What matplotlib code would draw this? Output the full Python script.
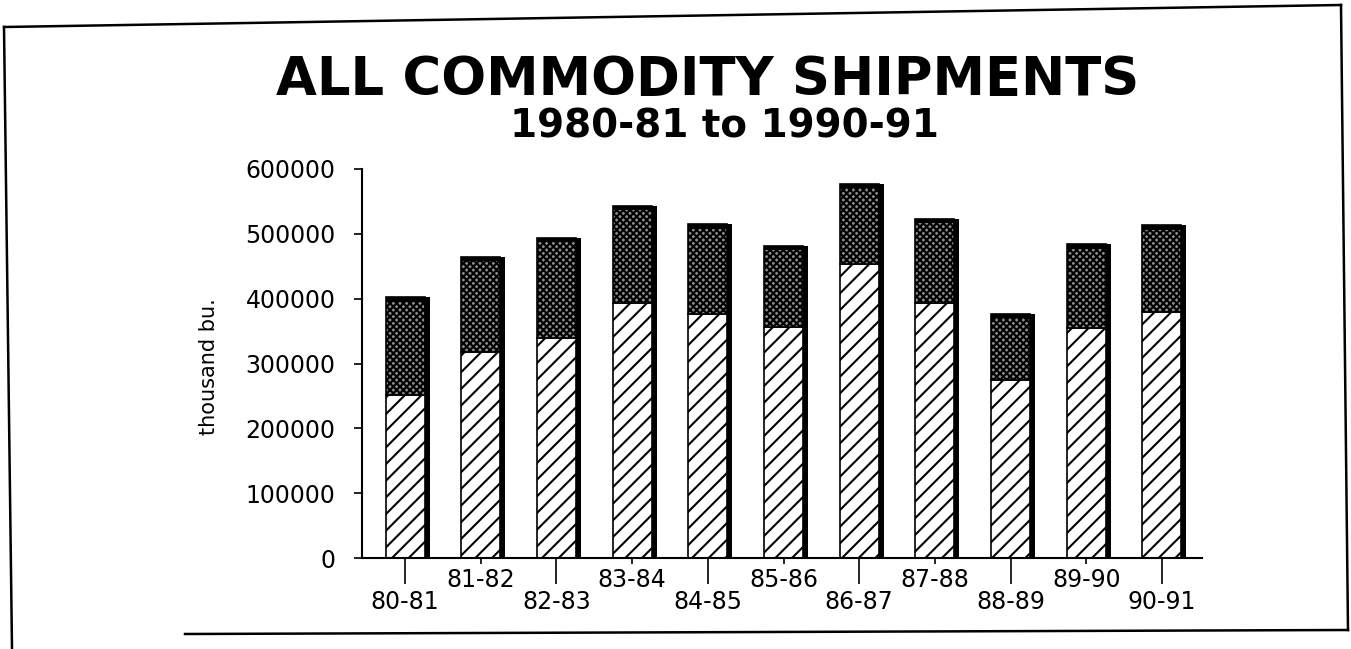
import matplotlib
matplotlib.use("Agg")
import matplotlib.pyplot as plt
from matplotlib.lines import Line2D
import numpy as np

# values in thousand bushels
seasons = ["80-81", "81-82", "82-83", "83-84", "84-85", "85-86",
           "86-87", "87-88", "88-89", "89-90", "90-91"]
lower = [251000, 317000, 340000, 394000, 376000, 356000,
         453000, 393000, 275000, 354000, 379000]
total = [402000, 465000, 494000, 543000, 515000, 482000,
         577000, 523000, 377000, 484000, 513000]
upper = [t - l for t, l in zip(total, lower)]
yticks = [0, 100000, 200000, 300000, 400000, 500000, 600000]

plt.rcParams['hatch.linewidth'] = 1.5

W, H = 1351, 649
fig = plt.figure(figsize=(W / 100, H / 100), dpi=100)
ax = fig.add_axes([362 / W, 1 - 558 / H, (1202 - 362) / W, (558 - 169) / H])

x = np.arange(len(seasons))
bw = 0.515

# black drop shadow on the right side of each bar
ax.bar(x + 0.065, total, width=bw, color='black', zorder=1)
ax.bar(x, lower, width=bw, facecolor='white', edgecolor='black',
       hatch='//', linewidth=1.2, zorder=2)
ax.bar(x, upper, bottom=lower, width=bw, facecolor='#8c8c8c', edgecolor='black',
       hatch='xxxxx', linewidth=1.2, zorder=2)
# thick rim on top
ax.bar(x + 0.03, 7000, bottom=np.array(total) - 7000, width=bw + 0.06,
       color='black', zorder=3)

ax.set_xlim(-0.57, 10.53)
ax.set_ylim(0, 600000)
ax.set_yticks(yticks)
ax.set_yticklabels([str(v) for v in yticks], fontsize=17, family='DejaVu Sans')
ax.tick_params(axis='y', length=6, width=1.2, pad=13)

even = x[::2]
odd = x[1::2]
ax.set_xticks(even)
ax.set_xticklabels([seasons[i] for i in even], fontsize=17)
ax.set_xticks(odd, minor=True)
ax.set_xticklabels([seasons[i] for i in odd], minor=True, fontsize=17)
ax.tick_params(axis='x', which='major', length=19, width=1.2, pad=4)
ax.tick_params(axis='x', which='minor', length=4, width=1.2, pad=3)

for s in ['top', 'right']:
    ax.spines[s].set_visible(False)
ax.spines['left'].set_linewidth(1.5)
ax.spines['bottom'].set_linewidth(1.5)

fig.text(209 / W, 1 - 367 / H, "thousand bu.", rotation=90, fontsize=15,
         ha='center', va='center', family='DejaVu Sans')

fig.text(708 / W, 1 - 95 / H, "ALL COMMODITY SHIPMENTS", fontsize=38,
         fontweight='bold', family='DejaVu Sans', ha='center', va='baseline')
fig.text(724 / W, 1 - 138 / H, "1980-81 to 1990-91", fontsize=28,
         fontweight='bold', family='DejaVu Sans', ha='center', va='baseline')

# scanned page frame
def frame(x0, y0, x1, y1):
    fig.add_artist(Line2D([x0 / W, x1 / W], [1 - y0 / H, 1 - y1 / H],
                          transform=fig.transFigure, color='black', linewidth=1.8))

frame(4, 27, 1341, 5)
frame(4, 27, 12, 649)
frame(1341, 5, 1348, 630)
frame(185, 634, 1348, 630)

fig.savefig("out.png", dpi=100)
